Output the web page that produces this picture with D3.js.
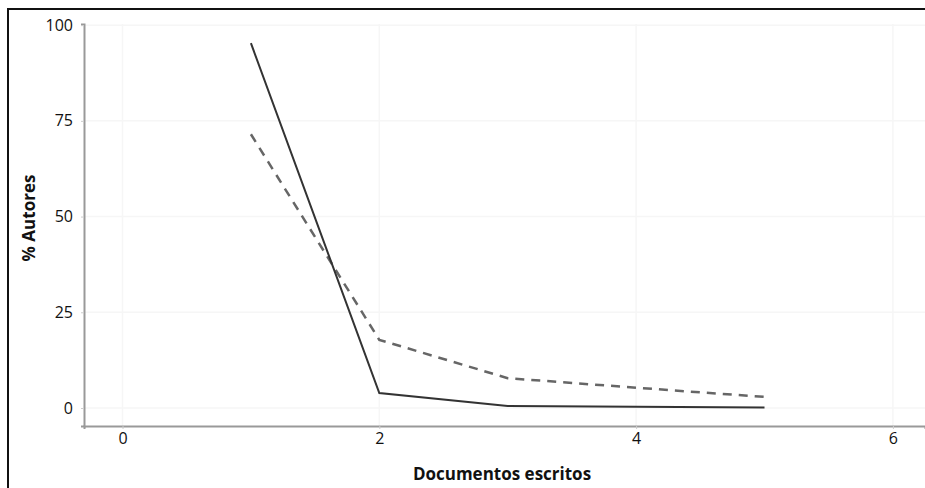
<!DOCTYPE html>
<html><head><meta charset="utf-8">
<script src="https://cdn.jsdelivr.net/npm/d3@7"></script>
<style>body{margin:0;background:#fff}svg{display:block}</style>
</head><body>
<svg id="c" width="925" height="488"></svg>
<script>
const xValues = [1, 2, 3, 4, 5];
const solidSeries = [95.3, 3.9, 0.5, 0.3, 0.1];
const dashedSeries = [71.5, 17.8, 7.8, 5.3, 2.9];
const xTicks = [0, 2, 4, 6];
const yTicks = [0, 25, 50, 75, 100];
const xTitle = "Documentos escritos";
const yTitle = "% Autores";

const svg = d3.select("#c");
const font = "'Open Sans', 'Liberation Sans', sans-serif";

svg.append("rect").attr("x", 8).attr("y", 9).attr("width", 940).attr("height", 500)
  .attr("fill", "none").attr("stroke", "#111").attr("stroke-width", 2);

const x = d3.scaleLinear().domain([-0.3, 6.25]).range([84, 925]);
const y = d3.scaleLinear().domain([-4.7, 100.3]).range([426, 24]);

// grid
svg.append("g").selectAll("line").data(xTicks).join("line")
  .attr("x1", d => x(d)).attr("x2", d => x(d)).attr("y1", 24).attr("y2", 426)
  .attr("stroke", "#f6f6f6").attr("stroke-width", 1.5);
svg.append("g").selectAll("line").data(yTicks).join("line")
  .attr("x1", 84).attr("x2", 925).attr("y1", d => y(d)).attr("y2", d => y(d))
  .attr("stroke", "#f6f6f6").attr("stroke-width", 1.5);

// axes
const fmt = d3.format("d");
const xAxis = svg.append("g").attr("transform", "translate(0,426)")
  .call(d3.axisBottom(x).tickValues(xTicks).tickFormat(fmt).tickSize(3).tickPadding(4));
const yAxis = svg.append("g").attr("transform", "translate(84,0)")
  .call(d3.axisLeft(y).tickValues(yTicks).tickFormat(fmt).tickSize(3).tickPadding(8));
[xAxis, yAxis].forEach(g => {
  g.select(".domain").attr("stroke", "#999").attr("stroke-width", 2);
  g.selectAll(".tick line").attr("stroke", "#ccc");
  g.selectAll(".tick text").attr("fill", "#111").style("font-family", font).style("font-size", "16px");
});

const line = d3.line().x((d, i) => x(xValues[i])).y(d => y(d));
svg.append("path").datum(dashedSeries).attr("d", line)
  .attr("fill", "none").attr("stroke", "#666").attr("stroke-width", 2.5)
  .attr("stroke-dasharray", "9,7");
svg.append("path").datum(solidSeries).attr("d", line)
  .attr("fill", "none").attr("stroke", "#333").attr("stroke-width", 2);

svg.append("text").attr("x", 502).attr("y", 480).attr("text-anchor", "middle")
  .style("font-family", font).style("font-size", "17px").style("font-weight", "bold")
  .attr("fill", "#111").text(xTitle);
svg.append("text").attr("transform", "translate(35,218) rotate(-90)").attr("text-anchor", "middle")
  .style("font-family", font).style("font-size", "17px").style("font-weight", "bold")
  .attr("fill", "#111").text(yTitle);
</script>
</body></html>
